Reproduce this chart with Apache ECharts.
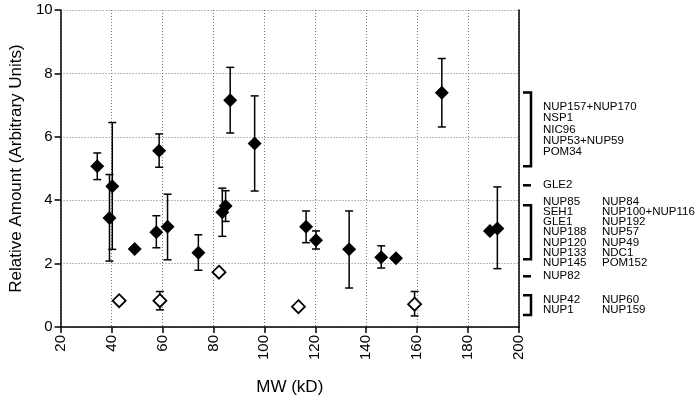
<!DOCTYPE html>
<html><head><meta charset="utf-8">
<script src="https://cdn.jsdelivr.net/npm/echarts@6/dist/echarts.min.js"></script>
<style>html,body{margin:0;padding:0;background:#fff}#c{width:699px;height:407px}</style>
</head><body><div id="c"></div>
<script>
// filled points: [MW, value, errHigh, errLow] (null = no error bar)
const filledMW =   [34.4,40.3,39.2,49.1,58.7,57.6,62.0,74.1,83.5,84.8,86.6,96.2,116.4,120.3,133.3,145.9,151.7,169.7,188.6,191.5];
const filledVal =  [5.07,4.44,3.44,2.46,5.56,2.99,3.16,2.34,3.62,3.82,7.15,5.79,3.16,2.74,2.45,2.20,2.17,7.39,3.03,3.11];
const filledHigh = [5.49,6.45,4.81,null,6.09,3.51,4.19,2.91,4.38,4.30,8.19,7.29,3.66,3.03,3.66,2.56,null,8.47,null,4.42];
const filledLow =  [4.65,2.45,2.08,null,5.04,2.50,2.12,1.79,2.86,3.33,6.12,4.29,2.66,2.46,1.23,1.86,null,6.31,null,1.84];
const openMW =   [43.0,59.0,82.2,113.4,159.0];
const openVal =  [0.83,0.83,1.73,0.64,0.72];
const openHigh = [null,1.12,null,null,1.12];
const openLow =  [null,0.54,null,null,0.35];
const xTicks = [20,40,60,80,100,120,140,160,180,200];
// right-side annotation groups: [yTop, yBottom, col1, col2]
const groups = [
  [7.4,5.07,["NUP157+NUP170","NSP1","NIC96","NUP53+NUP59","POM34"],[]],
  [4.47,4.47,["GLE2"],[]],
  [3.84,2.14,["NUP85","SEH1","GLE1","NUP188","NUP120","NUP133","NUP145"],["NUP84","NUP100+NUP116","NUP192","NUP57","NUP49","NDC1","POM152"]],
  [1.6,1.6,["NUP82"],[]],
  [1.0,0.38,["NUP42","NUP1"],["NUP60","NUP159"]]
];

const chart = echarts.init(document.getElementById('c'));
const font = 'Liberation Sans, Arial, sans-serif';
function errData(xs,hs,ls){const d=[];xs.forEach((x,i)=>{if(hs[i]!=null)d.push([x,hs[i],ls[i]]);});return d;}
const errAll = errData(filledMW,filledHigh,filledLow).concat(errData(openMW,openHigh,openLow));
const gridLine = {lineStyle:{type:[1,2],color:'#777'}};
chart.setOption({
  animation:false,
  grid:{left:59,right:180,top:10,bottom:80},
  xAxis:{type:'value',min:20,max:200,interval:20,name:'MW (kD)',nameLocation:'middle',nameGap:52,
    nameTextStyle:{fontSize:17,color:'#000',fontFamily:font},
    axisLine:{lineStyle:{color:'#000',width:1.5}},axisTick:{inside:false,length:6,lineStyle:{color:'#000',width:1.5}},
    axisLabel:{rotate:90,fontSize:15,color:'#000',fontFamily:font,margin:8},
    splitLine:gridLine},
  yAxis:[{type:'value',min:0,max:10,interval:2,name:'Relative Amount (Arbitrary Units)',nameLocation:'middle',nameGap:30,
    nameTextStyle:{fontSize:17,color:'#000',fontFamily:font},
    axisLine:{show:true,lineStyle:{color:'#000',width:1.5}},axisTick:{show:true,length:6,lineStyle:{color:'#000',width:1.5}},
    axisLabel:{fontSize:15,color:'#000',fontFamily:font,margin:8},
    splitLine:gridLine},
    {type:'value',min:0,max:10,position:'right',axisLine:{show:true,lineStyle:{color:'#000',width:1.5}},axisTick:{show:false},axisLabel:{show:false},splitLine:{show:false}}],
  series:[
    {type:'custom',data:errAll,z:1,renderItem:function(p,api){
      const top=api.coord([api.value(0),api.value(1)]),bot=api.coord([api.value(0),api.value(2)]);const w=4;
      const st={stroke:'#000',lineWidth:1.5};
      return {type:'group',children:[
        {type:'line',shape:{x1:top[0],y1:top[1],x2:bot[0],y2:bot[1]},style:st},
        {type:'line',shape:{x1:top[0]-w,y1:top[1],x2:top[0]+w,y2:top[1]},style:st},
        {type:'line',shape:{x1:bot[0]-w,y1:bot[1],x2:bot[0]+w,y2:bot[1]},style:st}]};
    }},
    {type:'scatter',symbol:'diamond',symbolSize:14,z:3,itemStyle:{color:'#000',opacity:1},data:filledMW.map((x,i)=>[x,filledVal[i]])},
    {type:'scatter',symbol:'diamond',symbolSize:13,z:3,itemStyle:{color:'#fff',borderColor:'#000',borderWidth:1.8,opacity:1},data:openMW.map((x,i)=>[x,openVal[i]])}
  ]
});
const g=[];
const bx=523,bx2=531;
groups.forEach(gr=>{
  const t=chart.convertToPixel({yAxisIndex:0},gr[0]),b=chart.convertToPixel({yAxisIndex:0},gr[1]);
  const st={stroke:'#000',lineWidth:2.5,fill:null};
  if(gr[0]===gr[1]) g.push({type:'line',shape:{x1:bx,y1:t,x2:bx2,y2:t},style:st});
  else g.push({type:'polyline',shape:{points:[[bx,t],[bx2,t],[bx2,b],[bx,b]]},style:st});
  const n=gr[2].length, lh = n>=7?10.2:(n>=5?11.2:10.2), y0=(t+b)/2-(n-1)*lh/2;
  const ts={fontSize:11.5,fontFamily:font,fill:'#000',verticalAlign:'middle'};
  gr[2].forEach((s,i)=>g.push({type:'text',x:543,y:y0+i*lh,style:Object.assign({text:s},ts)}));
  gr[3].forEach((s,i)=>g.push({type:'text',x:602,y:y0+i*lh,style:Object.assign({text:s},ts)}));
});
chart.setOption({graphic:g});
</script></body></html>
